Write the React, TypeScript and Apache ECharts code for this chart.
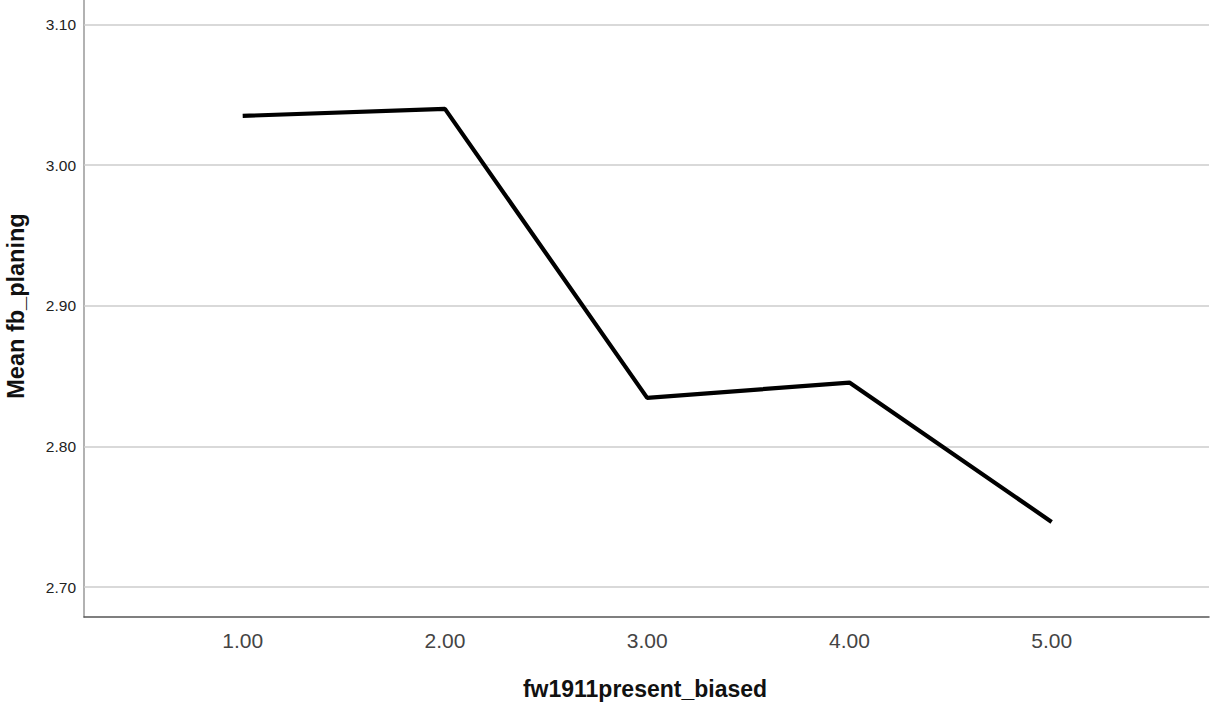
import React, { useEffect, useRef } from "react";
import * as echarts from "echarts";

const xValues = [1, 2, 3, 4, 5];
const meanValues = [3.035, 3.04, 2.8345, 2.8454, 2.7463];
const yTicks = [2.7, 2.8, 2.9, 3.0, 3.1];
const xTitle = "fw1911present_biased";
const yTitle = "Mean fb_planing";

export default function App() {
  const ref = useRef<HTMLDivElement>(null);
  useEffect(() => {
    if (!ref.current) return;
    const chart = echarts.init(ref.current, null, { renderer: "svg" });
    const font = "Liberation Sans, Arial, sans-serif";
    chart.setOption({
      animation: false,
      backgroundColor: "#ffffff",
      grid: { left: 84, top: 0, right: 1, bottom: 85, containLabel: false },
      xAxis: {
        type: "value",
        min: 0.2153,
        max: 5.778,
        axisLine: { show: true, lineStyle: { color: "#555555", width: 1.5 } },
        axisTick: { show: false },
        splitLine: { show: false },
        axisLabel: {
          customValues: xValues,
          formatter: (v: number) => v.toFixed(2),
          fontFamily: font,
          fontSize: 21,
          color: "#444444",
          margin: 13,
        },
      },
      yAxis: {
        type: "value",
        min: 2.6787,
        max: 3.1174,
        axisLine: { show: true, lineStyle: { color: "#999999", width: 1.5 } },
        axisTick: { show: false },
        splitLine: { show: false },
        axisLabel: {
          customValues: yTicks,
          formatter: (v: number) => v.toFixed(2),
          fontFamily: font,
          fontSize: 15.5,
          color: "#222222",
          margin: 8,
        },
      },
      graphic: [
        {
          type: "text",
          x: 645,
          y: 689,
          style: {
            text: xTitle,
            fontFamily: font,
            fontSize: 23,
            fontWeight: "bold",
            fill: "#111111",
            align: "center",
            verticalAlign: "middle",
          },
        },
        {
          type: "text",
          x: 16,
          y: 306,
          rotation: Math.PI / 2,
          style: {
            text: yTitle,
            fontFamily: font,
            fontSize: 23.5,
            fontWeight: "bold",
            fill: "#111111",
            align: "center",
            verticalAlign: "middle",
          },
        },
      ],
      series: [
        {
          type: "line",
          data: xValues.map((x, i) => [x, meanValues[i]]),
          symbol: "none",
          lineStyle: { color: "#000000", width: 4.2 },
          z: 3,
          markLine: {
            silent: true,
            symbol: "none",
            label: { show: false },
            lineStyle: { color: "#cccccc", width: 1.5, type: "solid" },
            data: yTicks.map((v) => ({ yAxis: v })),
            z: 1,
          },
        },
      ],
    });
    return () => chart.dispose();
  }, []);
  return (
    <div
      ref={ref}
      style={{ position: "fixed", left: 0, top: 0, width: 1210, height: 702 }}
    />
  );
}
